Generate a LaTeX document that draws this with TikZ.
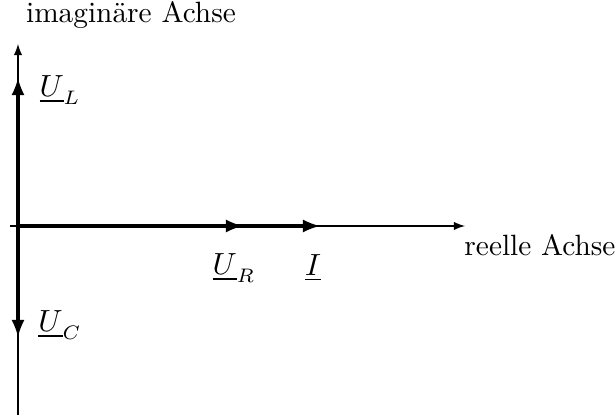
\documentclass[tikz,border=0pt]{standalone}
\usepackage{amsmath,amssymb}
\usepackage{tikz}
\usepackage{xcolor}

\begin{document}
\begin{tikzpicture}[x=0.01257cm,y=0.01257cm,every node/.style={font=\fontsize{10.5}{12.6}\selectfont},
  achse/.style={line width=0.4pt,-latex},
  zeiger/.style={line width=1.1pt,-latex}]
\useasboundingbox (-18,-193) rectangle (598,226);
% Achsen
\coordinate (O) at (0,0);
\coordinate (xa) at (-8,0);
\coordinate (xe) at (447,0);
\coordinate (ya) at (0,-189);
\coordinate (ye) at (0,182);
\draw[achse] (xa) -- (xe);
\draw[achse] (ya) -- (ye);
\node (re) at (522,-19) {reelle Achse};
\node (im) at (113,211) {imagin\"are Achse};
% Zeiger
\coordinate (UL) at (0,148);
\coordinate (UC) at (0,-111);
\coordinate (UR) at (225,0);
\coordinate (I) at (302,0);
\draw[zeiger] (O) -- (I);
\draw[zeiger] (O) -- (UR);
\draw[zeiger] (O) -- (UL);
\draw[zeiger] (O) -- (UC);
\node (lUL) at (42,136) {$\underline{U}_L$};
\node (lUC) at (42,-99) {$\underline{U}_C$};
\node (lUR) at (216,-42) {$\underline{U}_R$};
\node (lI) at (295,-42) {$\underline{I}$};
\end{tikzpicture}
\end{document}
